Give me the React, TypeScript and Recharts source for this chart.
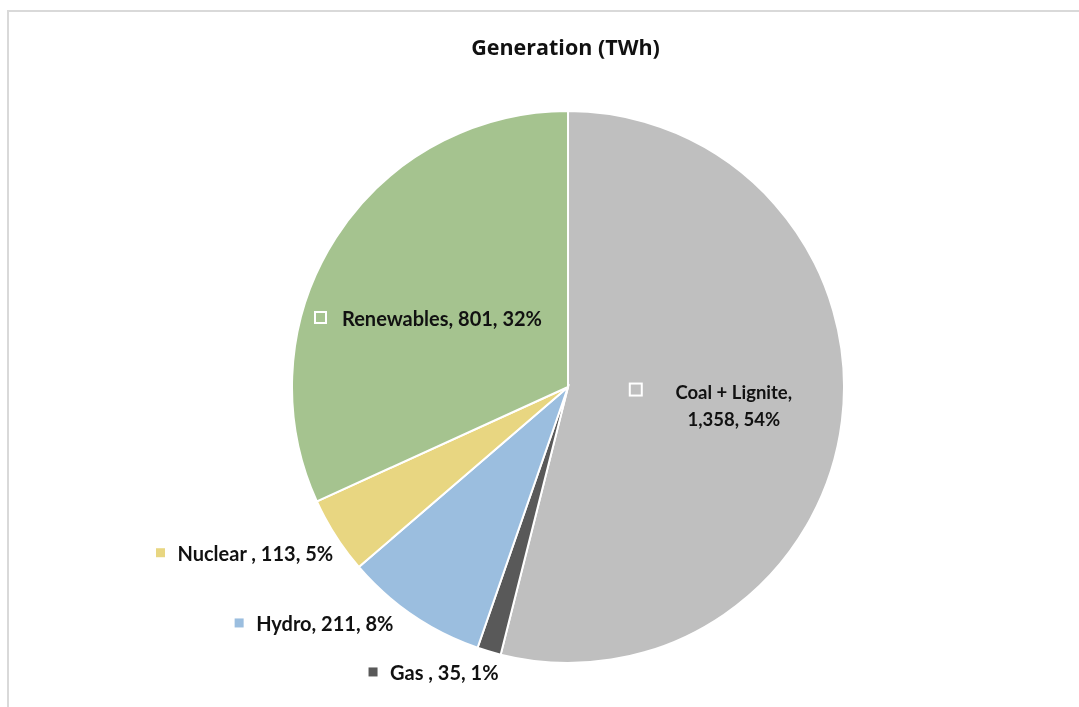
import { Cell, Pie, PieChart } from 'recharts';

const categories = ['Coal + Lignite', 'Gas ', 'Hydro', 'Nuclear ', 'Renewables'];
const generation = [1358, 35, 211, 113.4, 801];
const colors = ['#BFBFBF', '#595959', '#9BBEDF', '#E8D681', '#A5C38F'];

const data = categories.map((name, i) => ({ name, value: generation[i] }));

// where each label sits, relative to a point on the slice's mid angle
// inside: point at 0.576 * outerRadius; outside: point on the rim
const labelPlace = [
  { inside: true, dx: 8, dy: 0 },
  { inside: false, dx: -99, dy: 20.5 },
  { inside: false, dx: -156.7, dy: 7.7 },
  { inside: false, dx: -158, dy: 17 },
  { inside: true, dx: -92.3, dy: 17 },
];

const RAD = Math.PI / 180;
const FONT = 'Lato, "Open Sans", sans-serif';

function fmt(v: number) {
  return Math.round(v).toLocaleString('en-US');
}

function SliceLabel(props: any) {
  const { cx, cy, midAngle, outerRadius, percent, index } = props;
  const place = labelPlace[index];
  const r = place.inside ? outerRadius * 0.576 : outerRadius;
  const ax = cx + r * Math.cos(-midAngle * RAD);
  const ay = cy + r * Math.sin(-midAngle * RAD);
  const pct = `${Math.round(percent * 100)}%`;
  const name = categories[index];
  const val = fmt(generation[index]);

  if (index === 0) {
    // two-line centred label
    const x = ax + place.dx;
    return (
      <g>
        <rect x={x - 98 - 6} y={ay - 17 - 6} width={12} height={12} fill={colors[0]} stroke="#fff" strokeWidth={2} />
        <text x={x} y={ay - 14.5} textAnchor="middle" dominantBaseline="central" fontFamily={FONT} fontSize={18.5} fontWeight={700} fill="#111">
          {`${name},`}
        </text>
        <text x={x} y={ay + 12.5} textAnchor="middle" dominantBaseline="central" fontFamily={FONT} fontSize={18.5} fontWeight={700} fill="#111">
          {`${val}, ${pct}`}
        </text>
      </g>
    );
  }

  const tx = ax + place.dx;
  const ty = ay + place.dy;
  return (
    <g>
      {place.inside ? (
        <rect x={tx - 21.5 - 5.5} y={ty - 6} width={11} height={11} fill={colors[index]} stroke="#fff" strokeWidth={2} />
      ) : (
        <rect x={tx - 17 - 4.5} y={ty - 4.5} width={9} height={9} fill={colors[index]} />
      )}
      <text x={tx} y={ty} textAnchor="start" dominantBaseline="central" fontFamily={FONT} fontSize={20} fontWeight={700} fill="#111">
        {`${name}, ${val}, ${pct}`}
      </text>
    </g>
  );
}

export default function App() {
  return (
    <div style={{ position: 'relative', width: 1071, height: 691 }}>
      <div style={{ position: 'fixed', left: 7, top: 10, right: 0, height: 2, background: '#D9D9D9' }} />
      <div style={{ position: 'fixed', left: 7, top: 10, bottom: 0, width: 2, background: '#D9D9D9' }} />
      <div
        style={{
          position: 'absolute',
          left: 0,
          top: 25,
          width: 1115,
          textAlign: 'center',
          fontFamily: '"Open Sans", sans-serif',
          fontWeight: 700,
          fontSize: 21.5,
          lineHeight: '28px',
          color: '#111',
        }}
      >
        Generation (TWh)
      </div>
      <PieChart width={1071} height={691} margin={{ top: 0, right: 0, bottom: 0, left: 0 }}>
        <Pie
          data={data}
          dataKey="value"
          nameKey="name"
          cx={560}
          cy={379}
          outerRadius={276}
          startAngle={90}
          endAngle={-270}
          stroke="#FFFFFF"
          strokeWidth={2}
          label={SliceLabel}
          labelLine={false}
          isAnimationActive={false}
        >
          {data.map((d, i) => (
            <Cell key={d.name} fill={colors[i]} />
          ))}
        </Pie>
      </PieChart>
    </div>
  );
}
